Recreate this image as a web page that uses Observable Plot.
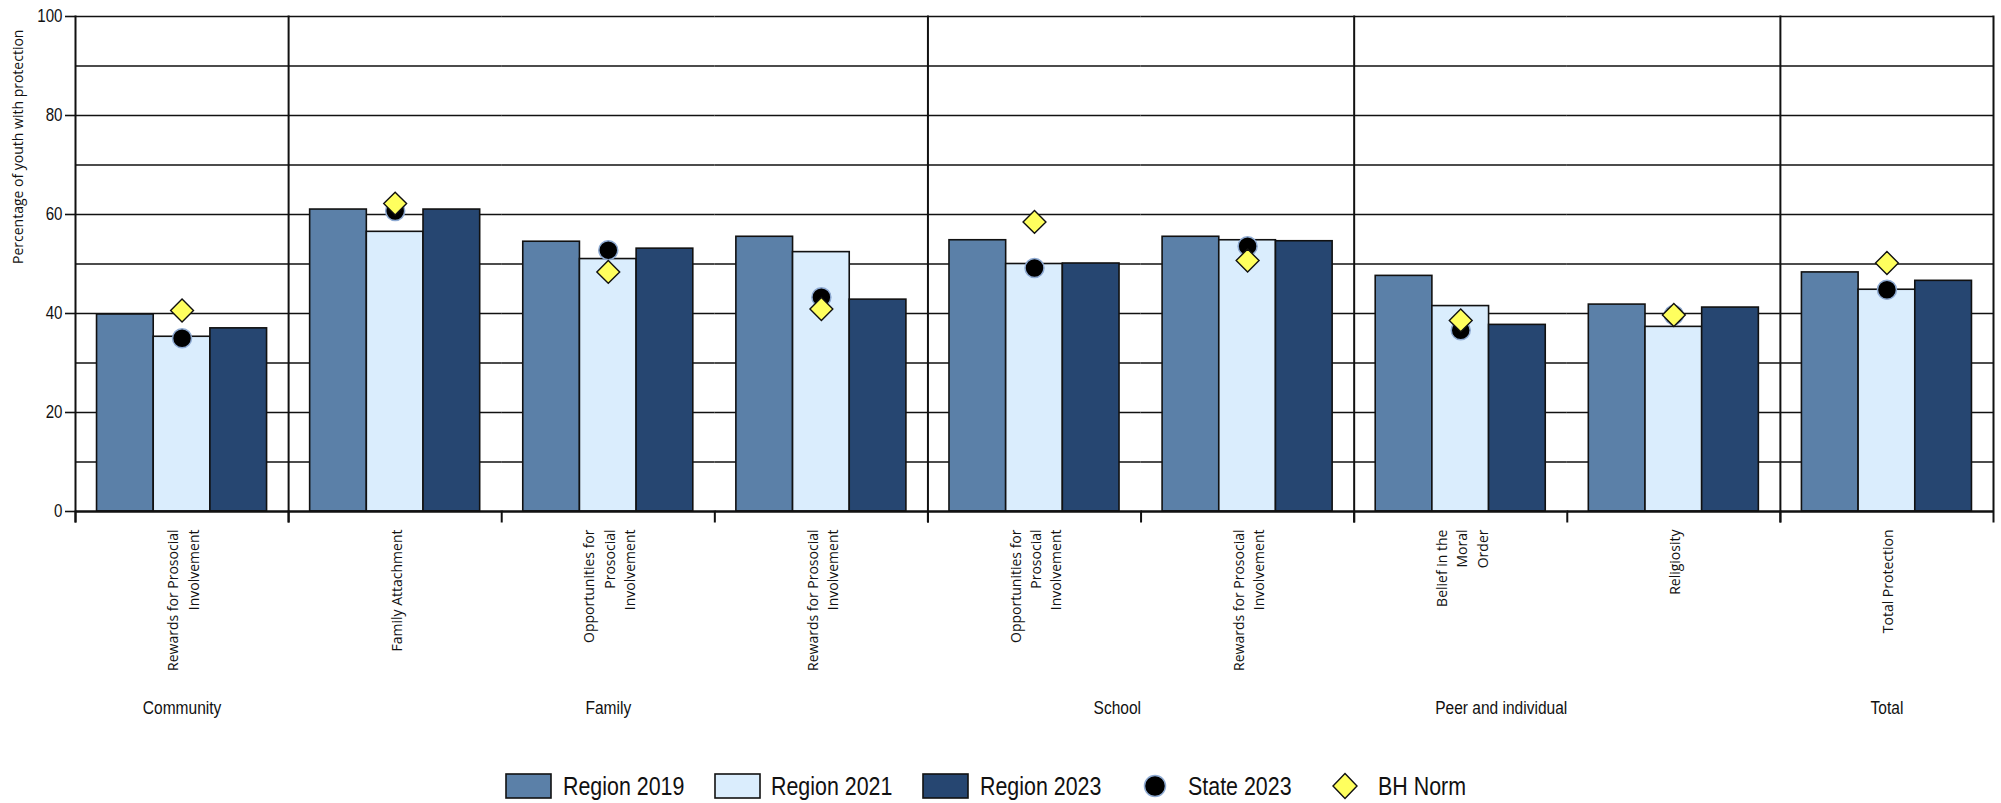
<!DOCTYPE html>
<html>
<head>
<meta charset="utf-8">
<script src="https://cdn.jsdelivr.net/npm/d3@7"></script>
<script src="https://cdn.jsdelivr.net/npm/@observablehq/plot@0.6"></script>
<style>
  body { margin: 0; background: #fff; }
  #wrap { position: relative; width: 2001px; height: 803px; overflow: hidden; background: #fff; }
  #chart { position: absolute; left: 0; top: 0; }
  #legend { position: absolute; left: 0; top: 766px; }
</style>
</head>
<body>
<div id="wrap">
  <div id="chart"></div>
  <div id="legend"></div>
</div>
<script>
// ---------------- data ----------------
const groups = ["Community", "Family", "School", "Peer and individual", "Total"];
const categoryGroup = ["Community", "Family", "Family", "Family", "School", "School",
  "Peer and individual", "Peer and individual", "Total"];
const categoryLabels = [
  "Rewards for Prosocial\nInvolvement",
  "Family Attachment",
  "Opportunities for\nProsocial\nInvolvement",
  "Rewards for Prosocial\nInvolvement",
  "Opportunities for\nProsocial\nInvolvement",
  "Rewards for Prosocial\nInvolvement",
  "Belief in the\nMoral\nOrder",
  "Religiosity",
  "Total Protection"
];
const seriesNames = ["Region 2019", "Region 2021", "Region 2023"];
const region2019 = [39.8, 61.0, 54.5, 55.5, 54.8, 55.5, 47.6, 41.8, 48.3];
const region2021 = [35.3, 56.5, 51.0, 52.4, 50.0, 54.8, 41.5, 37.3, 44.8];
const region2023 = [37.0, 61.0, 53.1, 42.8, 50.1, 54.6, 37.7, 41.2, 46.6];
const state2023  = [35.0, 60.7, 52.8, 43.3, 49.2, 53.6, 36.6, 39.7, 44.8];
const bhNorm     = [40.6, 62.2, 48.4, 40.9, 58.5, 50.7, 38.6, 39.7, 50.2];
const yTicks = [0, 20, 40, 60, 80, 100];
const gridValues = [10, 20, 30, 40, 50, 60, 70, 80, 90, 100];
const yLabel = "Percentage of youth with protection";
const pointNames = ["State 2023", "BH Norm"];

// ---------------- style ----------------
const seriesColors = ["#5b80a8", "#daedfd", "#264671"];
const stateFill = "#000000", stateStroke = "#8eaad2";
const normFill = "#ffff5e";
const ink = "#111111";
const narrow = "'Liberation Sans', Arial, sans-serif";   // horizontally condensed below
const regular = "'Open Sans', 'Noto Sans', sans-serif";

// ---------------- layout ----------------
const W = 2001, H = 745;
const mTop = 16, mLeft = 75, mRight = 8, mBottom = H - 511;
const innerH = H - mTop - mBottom;

// ---------------- derived tables ----------------
const keys = categoryLabels.map((l, i) => categoryGroup[i] + " | " + l.replace(/\n/g, " "));
const seriesValues = [region2019, region2021, region2023];
const cats = keys.map((k, i) => ({key: k, label: categoryLabels[i], state: state2023[i], norm: bhNorm[i]}));
const bars = keys.flatMap((k, i) => seriesNames.map((s, j) => ({key: k, series: s, value: seriesValues[j][i]})));
const groupAnchors = groups.map(g => {
  const idx = categoryGroup.map((c, i) => c === g ? i : -1).filter(i => i >= 0);
  const n = idx.length, s = idx[0];
  return n % 2 ? {name: g, key: keys[s + (n - 1) / 2], edge: false}
               : {name: g, key: keys[s + n / 2 - 1], edge: true};
});
const groupStarts = groups.map(g => keys[categoryGroup.indexOf(g)]);

const lineStyle = {stroke: ink, strokeWidth: 2};

const plot = Plot.plot({
  width: W, height: H,
  marginTop: mTop, marginBottom: mBottom, marginLeft: mLeft, marginRight: mRight,
  style: {background: "#fff", overflow: "visible", fontFamily: regular},
  fx: {domain: keys, padding: 0, round: false, axis: null},
  x: {domain: seriesNames, paddingInner: 0, paddingOuter: 0.38, round: false, axis: null},
  y: {domain: [0, 100]},
  color: {domain: seriesNames, range: seriesColors},
  marks: [
    Plot.ruleY(gridValues, {stroke: ink, strokeWidth: 1.6}),
    ...groupStarts.map(k => Plot.frame({fx: k, anchor: "left", insetBottom: -10, ...lineStyle})),
    Plot.frame({fx: keys[keys.length - 1], anchor: "right", insetBottom: -10, ...lineStyle}),
    Plot.frame({anchor: "left", insetTop: innerH, insetBottom: -10, ...lineStyle}),
    Plot.barY(bars, {fx: "key", x: "series", y: "value", fill: "series", stroke: ink, strokeWidth: 1.6}),
    Plot.ruleY([0], {stroke: ink, strokeWidth: 2.6}),
    Plot.dot(cats, {fx: "key", y: "state", r: 9.5, fill: stateFill, stroke: stateStroke, strokeWidth: 1.5}),
    Plot.dot(cats, {fx: "key", y: "norm", symbol: "diamond2", r: 10.3, fill: normFill, stroke: ink, strokeWidth: 1.4}),
    Plot.axisY({ticks: yTicks, tickSize: 10, tickPadding: 3, fontSize: 18, fontFamily: narrow,
      label: null, stroke: ink, strokeWidth: 1.6, color: ink}),
    Plot.text([yLabel], {fx: () => keys[0], text: d => d, frameAnchor: "left", rotate: -90, dx: -57,
      fontSize: 14, fontFamily: regular, fill: ink}),
    Plot.text(cats, {fx: "key", text: "label", frameAnchor: "bottom", rotate: -90, textAnchor: "end",
      lineAnchor: "middle", dy: 18, fontSize: 14, fontFamily: regular, lineHeight: 1.45, fill: ink}),
    Plot.text(groupAnchors.filter(d => !d.edge), {fx: "key", text: "name", frameAnchor: "bottom", dy: 202,
      fontSize: 18.5, fontFamily: narrow, fill: ink}),
    Plot.text(groupAnchors.filter(d => d.edge), {fx: "key", text: "name", frameAnchor: "bottom-right", dy: 202,
      fontSize: 18.5, fontFamily: narrow, fill: ink})
  ]
});
document.getElementById("chart").appendChild(plot);

// horizontally condense glyphs (emulates the condensed face of the original)
function condense(nodes, k) {
  nodes.forEach(node => {
    const t = d3.select(node);
    const xa = t.attr("x");
    if (xa != null && isFinite(+xa)) t.attr("x", +xa / k);
    const tr = t.attr("transform") || "";
    t.attr("transform", `${tr} scale(${k},1)`.trim());
  });
}
const allText = Array.from(plot.querySelectorAll("text"));
condense(Array.from(plot.querySelectorAll('g[aria-label="y-axis tick label"] text')), 0.84);
condense(allText.filter(t => groups.includes(t.textContent)), 0.84);

// ---------------- legend ----------------
const legendNames = [...seriesNames, ...pointNames];
const legendKinds = ["rect", "rect", "rect", "circle", "diamond"];
const legendLeft = [506, 715, 923, 1132, 1322];
const textLeft = [563, 771, 980, 1188, 1378];
const boxW = 45, boxH = 24, legendH = 37, cy = 20;
const lsvg = d3.select("#legend").append("svg").attr("width", W).attr("height", legendH)
  .style("font-family", narrow).style("font-size", "25.5px");
legendNames.forEach((name, i) => {
  const g = lsvg.append("g").attr("transform", `translate(${legendLeft[i]},0)`);
  const kind = legendKinds[i];
  if (kind === "rect") {
    g.append("rect").attr("x", 0).attr("y", cy - boxH / 2).attr("width", boxW).attr("height", boxH)
      .attr("fill", seriesColors[i]).attr("stroke", ink).attr("stroke-width", 1.6);
  } else if (kind === "circle") {
    g.append("circle").attr("cx", 23).attr("cy", cy).attr("r", 10.5)
      .attr("fill", stateFill).attr("stroke", stateStroke).attr("stroke-width", 1.5);
  } else {
    g.append("path").attr("d", `M23,${cy-12.5}L35,${cy}L23,${cy+12.5}L11,${cy}Z`)
      .attr("fill", normFill).attr("stroke", ink).attr("stroke-width", 1.4);
  }
  lsvg.append("text").attr("transform", `translate(${textLeft[i]},${cy}) scale(0.84,1)`)
    .attr("dy", "0.36em").attr("fill", ink).text(name);
});
</script>
</body>
</html>
